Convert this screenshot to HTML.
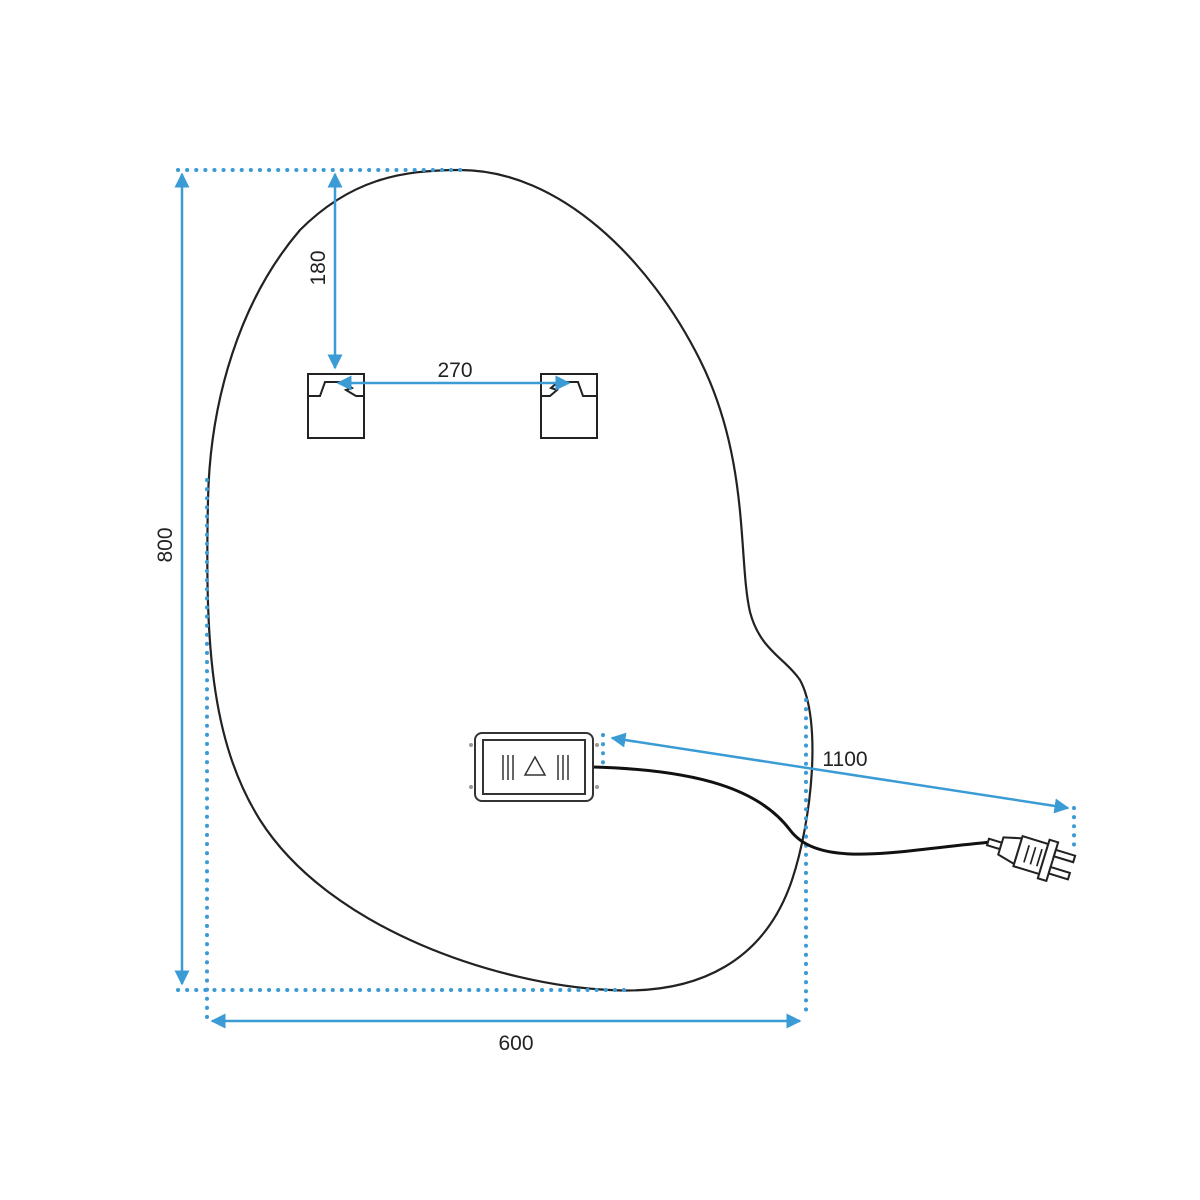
<!DOCTYPE html>
<html><head><style>body{margin:0;background:#fff}svg{display:block}</style></head><body>
<svg width="1200" height="1200" viewBox="0 0 1200 1200" xmlns="http://www.w3.org/2000/svg">
<defs><marker id="a" viewBox="0 0 10 10" refX="9" refY="5" markerWidth="6" markerHeight="6" orient="auto-start-reverse"><path d="M0 0L10 5L0 10Z" fill="#3a9bd5"/></marker></defs>
<path d="M460 170 C560 170 650 260 700 360 C750 460 738 560 750 612 C760 650 785 658 800 680 C822 720 812 820 792 880 C765 960 700 995 610 990 C500 985 330 930 260 820 C210 740 205 640 208 500 C210 400 240 300 300 230 C350 180 400 170 460 170Z" fill="none" stroke="#222" stroke-width="2.2"/>
<g stroke="#3a9bd5" stroke-width="4" stroke-dasharray="0.1 9" stroke-linecap="round" fill="none">
<path d="M178 170H462"/><path d="M207 480V1018"/><path d="M178 990H632"/><path d="M806 700V1015"/><path d="M603 735V770"/><path d="M1074 808V852"/>
</g>
<g stroke="#222" stroke-width="2" fill="#fff">
<rect x="308" y="374" width="56" height="64"/><path d="M308 396H320L325 382H345L352 388L346 390L356 396H364" fill="none"/>
<rect x="541" y="374" width="56" height="64"/><path d="M541 396H550L557 390L551 388L558 382H578L583 396H597" fill="none"/>
</g>
<g stroke="#3a9bd5" stroke-width="2.5" fill="none" marker-start="url(#a)" marker-end="url(#a)">
<path d="M182 174V984"/><path d="M212 1021H800"/><path d="M335 174V368"/><path d="M338 383H569"/><path d="M612 738L1068 808"/>
</g>
<g font-family="Liberation Sans, sans-serif" font-size="21" fill="#222" text-anchor="middle">
<text x="516" y="1050">600</text>
<text x="455" y="377">270</text>
<text x="845" y="766">1100</text>
<text transform="translate(172,545) rotate(-90)">800</text>
<text transform="translate(325,268) rotate(-90)">180</text>
</g>
<path d="M593 767 C700 770 760 790 790 830 C820 870 900 850 992 842" fill="none" stroke="#111" stroke-width="3"/>
<g stroke="#333" fill="#fff" stroke-width="2">
<rect x="475" y="733" width="118" height="68" rx="7"/><rect x="483" y="740" width="102" height="54"/>
<path d="M503 755V780M508 755V780M513 755V780M558 755V780M563 755V780M568 755V780" stroke-width="1.5"/>
<path d="M535 757L545 775H525Z" stroke-width="1.5"/>
</g>
<g fill="#999"><circle cx="471" cy="745" r="2"/><circle cx="471" cy="787" r="2"/><circle cx="597" cy="745" r="2"/><circle cx="597" cy="787" r="2"/></g>
<g transform="translate(988,842) rotate(17) scale(1.12)" stroke="#222" stroke-width="1.8" fill="#fff">
<path d="M0 -3H12V3H0Z"/><path d="M12 -8L28 -12V12L12 8Z"/><path d="M28 -14H52V14H28Z"/>
<path d="M36 -8V8M42 -8V8M48 -8V8" stroke-width="1.5"/>
<rect x="52" y="-18" width="8" height="36"/>
<path d="M60 -11H78V-5H60Z"/><path d="M60 5H78V11H60Z"/>
</g>
</svg>
</body></html>
